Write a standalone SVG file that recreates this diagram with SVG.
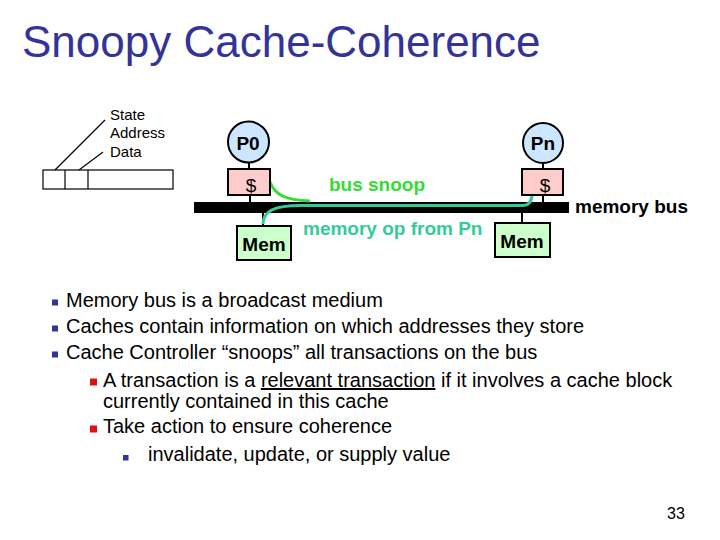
<svg xmlns="http://www.w3.org/2000/svg" width="720" height="540" viewBox="0 0 720 540">
<style>
text{font-family:"Liberation Sans",Arial,sans-serif;}
.title{font-size:44px;fill:#333399;}
.small{font-size:15px;fill:#000;}
.lbl{font-size:19px;font-weight:bold;fill:#000;}
.dollar{font-size:19px;fill:#000;}
.body{font-size:20px;fill:#000;}
.proc{fill:#cce6ff;stroke:#000;stroke-width:2;}
.cache{fill:#ffcccc;stroke:#000;stroke-width:2;}
.mem{fill:#ccffcc;stroke:#000;stroke-width:2;}
.wire{stroke:#000;stroke-width:2;fill:none;}
.thin{stroke:#000;stroke-width:1.2;fill:none;}
.b1{fill:#333399;}
.b2{fill:#dd1111;}
</style>
<rect width="720" height="540" fill="#fff"/>
<text class="title" x="22" y="57">Snoopy Cache-Coherence</text>

<g id="cache-line">
<rect class="thin" x="43" y="170" width="130" height="19" fill="#fff"/>
<line class="thin" x1="65" y1="170" x2="65" y2="189"/>
<line class="thin" x1="88" y1="170" x2="88" y2="189"/>
<line class="thin" x1="55" y1="170" x2="105" y2="120"/>
<line class="thin" x1="79" y1="170" x2="103" y2="152"/>
<text class="small" x="110" y="120">State</text>
<text class="small" x="110" y="138">Address</text>
<text class="small" x="110" y="157">Data</text>
</g>

<g id="bus">
<rect x="194" y="202" width="375" height="11" fill="#000"/>
<text class="lbl" x="575" y="213">memory bus</text>
</g>

<g id="connectors">
<line class="wire" x1="249" y1="162" x2="249" y2="169"/>
<line class="wire" x1="250" y1="195" x2="250" y2="202"/>
<line class="wire" x1="263" y1="213" x2="263" y2="226"/>
<line class="wire" x1="543" y1="163" x2="543" y2="169"/>
<line class="wire" x1="543" y1="195" x2="543" y2="202"/>
<line class="wire" x1="522" y1="213" x2="522" y2="223"/>
<path d="M270,182 C275,195 285,200 310,201" stroke="#33dd33" stroke-width="3" fill="none"/>
<path d="M263,224 C263,211 275,205.5 300,205.5 L522,205.5 C530,205.5 532,200 532,194" stroke="#33cc99" stroke-width="3" fill="none"/>
</g>

<g id="P0">
<circle class="proc" cx="248.5" cy="142" r="20.5"/>
<text class="lbl" x="248" y="150" text-anchor="middle">P0</text>
</g>
<g id="cache0">
<rect class="cache" x="228" y="169" width="42" height="26"/>
<text class="dollar" x="251" y="192" text-anchor="middle">$</text>
</g>
<g id="mem0">
<rect class="mem" x="237" y="226" width="54" height="34"/>
<text class="lbl" x="264" y="251" text-anchor="middle">Mem</text>
</g>

<g id="Pn">
<circle class="proc" cx="543" cy="143" r="20"/>
<text class="lbl" x="543" y="150" text-anchor="middle">Pn</text>
</g>
<g id="cacheN">
<rect class="cache" x="522" y="169" width="41" height="26"/>
<text class="dollar" x="545" y="192" text-anchor="middle">$</text>
</g>
<g id="memN">
<rect class="mem" x="495" y="223" width="55" height="34"/>
<text class="lbl" x="522" y="248" text-anchor="middle">Mem</text>
</g>

<text class="lbl" x="329" y="191" style="fill:#33dd33">bus snoop</text>
<text class="lbl" x="303" y="235" style="fill:#33cc99">memory op from Pn</text>

<g id="bullets">
<rect class="b1" x="52" y="299.5" width="6" height="6"/>
<text class="body" x="66" y="307">Memory bus is a broadcast medium</text>
<rect class="b1" x="52" y="325.5" width="6" height="6"/>
<text class="body" x="66" y="333">Caches contain information on which addresses they store</text>
<rect class="b1" x="52" y="351.5" width="6" height="6"/>
<text class="body" x="66" y="359">Cache Controller “snoops” all transactions on the bus</text>
<rect class="b2" x="90" y="378.5" width="7" height="7"/>
<text class="body" x="103" y="387">A transaction is a <tspan text-decoration="underline">relevant transaction</tspan> if it involves a cache block</text>
<text class="body" x="103" y="408">currently contained in this cache</text>
<rect class="b2" x="90" y="425.5" width="7" height="7"/>
<text class="body" x="103" y="433">Take action to ensure coherence</text>
<rect class="b1" x="123" y="455" width="5.5" height="5.5"/>
<text class="body" x="148" y="461">invalidate, update, or supply value</text>
</g>

<text x="667" y="519" style="font-size:16px;fill:#000">33</text>
</svg>
